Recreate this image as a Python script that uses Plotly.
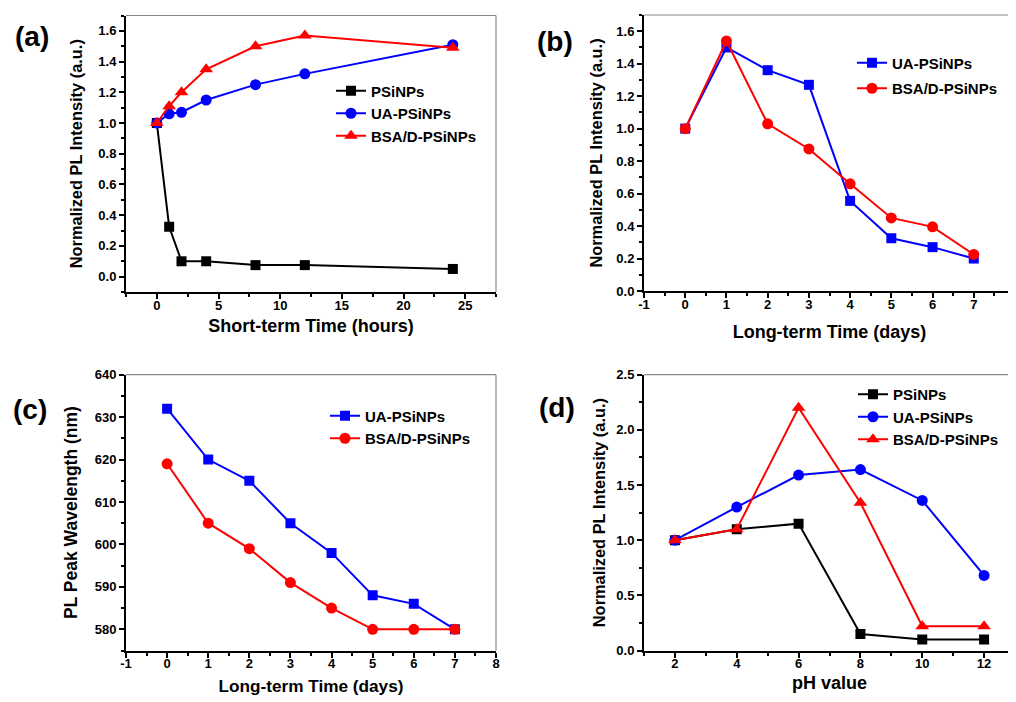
import plotly.graph_objects as go

# The page body has an 8px margin, so the figure is 8px smaller than the window
OFF = 8
W, H = 1016 - OFF, 702 - OFF

# ---------------- data ----------------
# (a) short-term
a_time = [0, 1, 2, 4, 8, 12, 24]
a_psinps = [1.0, 0.325, 0.10, 0.10, 0.075, 0.075, 0.05]
a_ua = [1.0, 1.06, 1.07, 1.15, 1.25, 1.32, 1.51]
a_bsa = [1.0, 1.11, 1.20, 1.35, 1.50, 1.57, 1.49]

# (b) long-term intensity
b_days = [0, 1, 2, 3, 4, 5, 6, 7]
b_ua = [1.0, 1.50, 1.36, 1.27, 0.555, 0.325, 0.27, 0.20]
b_bsa = [1.0, 1.54, 1.03, 0.875, 0.66, 0.45, 0.395, 0.225]

# (c) long-term peak wavelength
c_days = [0, 1, 2, 3, 4, 5, 6, 7]
c_ua = [632, 620, 615, 605, 598, 588, 586, 580]
c_bsa = [619, 605, 599, 591, 585, 580, 580, 580]

# (d) pH
d_ph = [2, 4, 6, 8, 10, 12]
d_psinps = [1.0, 1.10, 1.15, 0.15, 0.10, 0.10]
d_ua = [1.0, 1.30, 1.59, 1.64, 1.36, 0.68]
d_bsa = [1.0, 1.10, 2.20, 1.34, 0.22, 0.22]

# tick labels of the day axes (plain hyphen for -1)
day_ticks = [-1, 0, 1, 2, 3, 4, 5, 6, 7, 8]
day_ticklabels = ["-1", "0", "1", "2", "3", "4", "5", "6", "7", "8"]

FONT = "Liberation Sans, Arial, sans-serif"
BLACK, BLUE, RED = "#000000", "#0000FF", "#FF0000"


def px_x(p):
    return (p - OFF) / W


def px_y(p):
    return 1 - (p - OFF) / H


fig = go.Figure()


def add(x, y, name, color, symbol, size, xa, ya, legend, group=None):
    fig.add_trace(go.Scatter(
        x=x, y=y, name=name, mode="lines+markers",
        line=dict(color=color, width=2),
        marker=dict(symbol=symbol, size=size, color=color),
        xaxis=xa, yaxis=ya, legend=legend,
        legendgroup=group,
    ))


add(a_time, a_psinps, "PSiNPs", BLACK, "square", 10, "x", "y", "legend")
add(a_time, a_ua, "UA-PSiNPs", BLUE, "circle", 11, "x", "y", "legend")
add(a_time, a_bsa, "BSA/D-PSiNPs", RED, "triangle-up", 12, "x", "y", "legend")

add(b_days, b_ua, "UA-PSiNPs", BLUE, "square", 10, "x2", "y2", "legend2", "g1")
add(b_days, b_bsa, "BSA/D-PSiNPs", RED, "circle", 11, "x2", "y2", "legend2", "g2")

add(c_days, c_ua, "UA-PSiNPs", BLUE, "square", 10, "x3", "y3", "legend3")
add(c_days, c_bsa, "BSA/D-PSiNPs", RED, "circle", 11, "x3", "y3", "legend3")

add(d_ph, d_psinps, "PSiNPs", BLACK, "square", 10, "x4", "y4", "legend4")
add(d_ph, d_ua, "UA-PSiNPs", BLUE, "circle", 11, "x4", "y4", "legend4")
add(d_ph, d_bsa, "BSA/D-PSiNPs", RED, "triangle-up", 12, "x4", "y4", "legend4")

tickfont = dict(family=FONT, size=13, color="black", weight="bold")


def xaxis(domain, anchor, rng, dtick, tick0, mdtick, title, tsize=18, standoff=7,
          tickvals=None, ticktext=None):
    d = dict(
        domain=domain, anchor=anchor, range=rng, dtick=dtick, tick0=tick0,
        showline=True, linecolor="black", linewidth=2, mirror=False,
        ticks="outside", ticklen=5, tickwidth=2, tickcolor="black",
        minor=dict(ticks="outside", ticklen=3, tickwidth=1.5, tickcolor="black",
                   dtick=mdtick, tick0=tick0),
        showgrid=False, zeroline=False, tickfont=tickfont, automargin=False,
        ticklabelstandoff=-5,
        title=dict(text=title, font=dict(family=FONT, size=tsize, color="black", weight="bold"),
                   standoff=standoff),
        fixedrange=True,
    )
    if tickvals is not None:
        d.update(tickmode="array", tickvals=tickvals, ticktext=ticktext)
    return d


def yaxis(domain, anchor, rng, dtick, tick0, mdtick, title, fmt, tsize=16.4, standoff=8):
    return dict(
        domain=domain, anchor=anchor, range=rng, dtick=dtick, tick0=tick0,
        showline=True, linecolor="black", linewidth=2, mirror=False,
        ticks="outside", ticklen=5, tickwidth=2, tickcolor="black",
        minor=dict(ticks="outside", ticklen=3, tickwidth=1.5, tickcolor="black", dtick=mdtick),
        showgrid=False, zeroline=False, tickfont=tickfont, tickformat=fmt, automargin=False,
        title=dict(text=title, font=dict(family=FONT, size=tsize, color="black", weight="bold"),
                   standoff=standoff),
        fixedrange=True,
    )


# domains (reference pixel based)
ax_l, ax_r = [px_x(126), px_x(496)], [px_x(644), px_x(1015)]
ay_top_a = [px_y(292), px_y(15.5)]
ay_top_b = [px_y(291), px_y(15)]
ay_bot = [px_y(650.5), px_y(374.7)]

ytitle = "Normalized PL Intensity (a.u.)"
fig.update_layout(
    xaxis=xaxis(ax_l, "y", [-2.5, 27.5], 5, 0, 2.5, "Short-term Time (hours)", standoff=7.5),
    yaxis=yaxis(ay_top_a, "x", [-0.1, 1.7], 0.2, 0, 0.1, ytitle, ".1f", standoff=12),
    xaxis2=xaxis(ax_r, "y2", [-1, 8], 1, 0, 0.5, "Long-term Time (days)", standoff=15,
                 tickvals=day_ticks, ticktext=day_ticklabels),
    yaxis2=yaxis(ay_top_b, "x2", [0, 1.7], 0.2, 0, 0.1, ytitle, ".1f", standoff=10),
    xaxis3=xaxis(ax_l, "y3", [-1, 8], 1, 0, 0.5, "Long-term Time (days)", tsize=17.2,
                 standoff=9.5, tickvals=day_ticks, ticktext=day_ticklabels),
    yaxis3=yaxis(ay_bot, "x3", [575, 640], 10, 580, 5, "PL Peak Wavelength (nm)", "d",
                 tsize=17.5, standoff=13),
    xaxis4=xaxis(ax_r, "y4", [1, 13], 2, 2, 1, "pH value", standoff=6),
    yaxis4=yaxis(ay_bot, "x4", [0, 2.5], 0.5, 0, 0.25, ytitle, ".1f", standoff=7),
)

legfont = dict(family=FONT, size=15, color="black", weight="bold")
leg_common = dict(bgcolor="rgba(0,0,0,0)", borderwidth=0, font=legfont,
                  xanchor="left", yanchor="top", itemclick=False, itemdoubleclick=False)
fig.update_layout(
    legend=dict(x=px_x(331), y=px_y(74.5), **leg_common),
    legend2=dict(x=px_x(852), y=px_y(46.5), tracegroupgap=3, **leg_common),
    legend3=dict(x=px_x(325), y=px_y(399.5), **leg_common),
    legend4=dict(x=px_x(853), y=px_y(378), **leg_common),
)

# grey top/right frame lines
for xa, ya in [("x", "y"), ("x2", "y2"), ("x3", "y3"), ("x4", "y4")]:
    xr = xa + " domain"
    yr = ya + " domain"
    fig.add_shape(type="line", xref=xr, yref=yr, x0=0, x1=1, y0=1, y1=1,
                  line=dict(color="#8a8a8a", width=1.2), layer="below")
    fig.add_shape(type="line", xref=xr, yref=yr, x0=1, x1=1, y0=0, y1=1,
                  line=dict(color="#8a8a8a", width=1.2), layer="below")

# panel labels
for txt, cx, cy in [("(a)", 32, 37), ("(b)", 555, 42), ("(c)", 30, 409), ("(d)", 557, 407)]:
    fig.add_annotation(text=txt, x=px_x(cx), y=px_y(cy), xref="paper", yref="paper",
                       showarrow=False, xanchor="center", yanchor="middle",
                       font=dict(family=FONT, size=28, color="black", weight="bold"))

fig.update_layout(
    width=W, height=H, margin=dict(l=0, r=0, t=0, b=0),
    paper_bgcolor="white", plot_bgcolor="white",
    showlegend=True,
)

fig.write_html("out.html", config={"displayModeBar": False})
